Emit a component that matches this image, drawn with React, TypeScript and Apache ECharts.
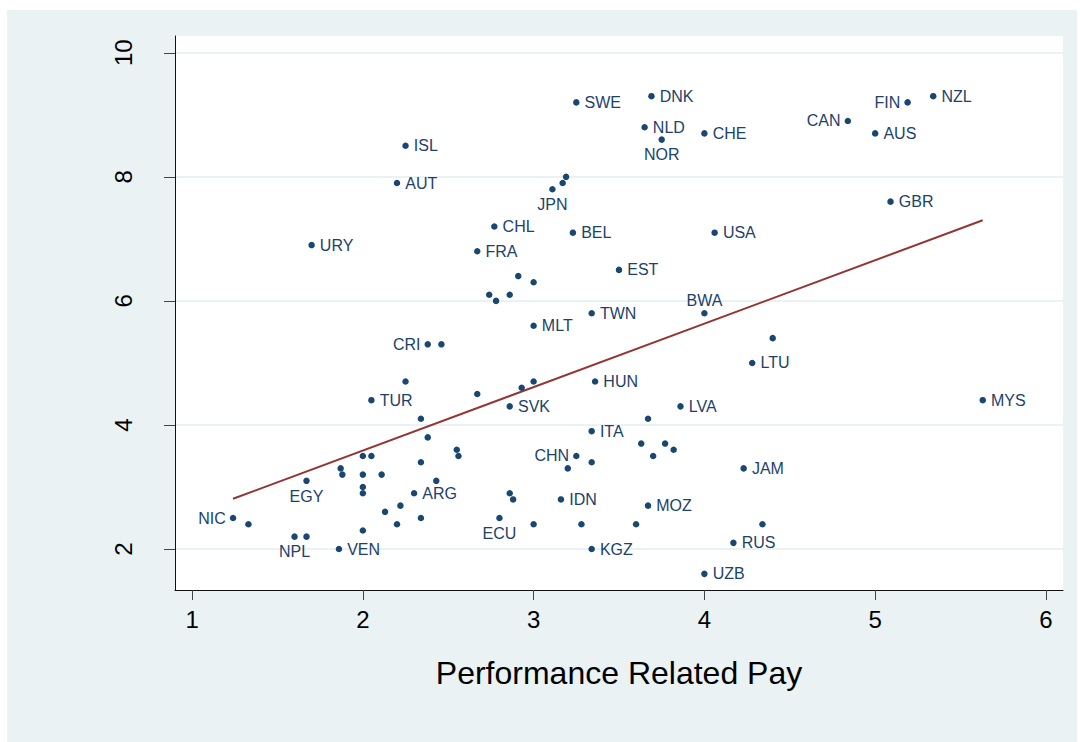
import React, { useEffect, useRef } from "react";
import * as echarts from "echarts";

// Labelled countries: performance related pay (x) vs. y score
const countries = [
  "ISL", "AUT", "URY", "FRA", "SWE", "DNK", "NLD", "NOR", "CHE", "JPN",
  "CHL", "BEL", "USA", "EST", "FIN", "NZL", "CAN", "AUS", "GBR", "CRI",
  "TUR", "TWN", "MLT", "BWA", "LTU", "HUN", "SVK", "LVA", "ITA", "CHN",
  "JAM", "MYS", "EGY", "ARG", "NIC", "NPL", "VEN", "IDN", "MOZ", "ECU",
  "RUS", "KGZ", "UZB",
];
const countryX = [
  2.25, 2.2, 1.7, 2.67, 3.25, 3.69, 3.65, 3.75, 4.0, 3.11,
  2.77, 3.23, 4.06, 3.5, 5.19, 5.34, 4.84, 5.0, 5.09, 2.38,
  2.05, 3.34, 3.0, 4.0, 4.28, 3.36, 2.86, 3.86, 3.34, 3.25,
  4.23, 5.63, 1.67, 2.3, 1.24, 1.6, 1.86, 3.16, 3.67, 2.8,
  4.17, 3.34, 4.0,
];
const countryY = [
  8.5, 7.9, 6.9, 6.8, 9.2, 9.3, 8.8, 8.6, 8.7, 7.8,
  7.2, 7.1, 7.1, 6.5, 9.2, 9.3, 8.9, 8.7, 7.6, 5.3,
  4.4, 5.8, 5.6, 5.8, 5.0, 4.7, 4.3, 4.3, 3.9, 3.5,
  3.3, 4.4, 3.1, 2.9, 2.5, 2.2, 2.0, 2.8, 2.7, 2.5,
  2.1, 2.0, 1.6,
];

// Unlabelled points
const otherX = [
  3.19, 3.17, 2.91, 3.0, 2.74, 2.78, 2.86, 2.46,
  2.25, 2.67, 2.34, 2.38, 2.55, 2.56, 2.0, 2.05, 2.34, 1.87, 1.88, 2.0, 2.11,
  2.0, 2.0, 2.43, 2.22, 2.13, 2.2, 2.34, 1.33, 1.67, 2.0,
  4.4, 3.0, 2.93, 3.67, 3.63, 3.77, 3.7, 3.82, 3.34, 3.2,
  2.86, 2.88, 3.0, 3.28, 3.6, 4.34,
];
const otherY = [
  8.0, 7.9, 6.4, 6.3, 6.1, 6.0, 6.1, 5.3,
  4.7, 4.5, 4.1, 3.8, 3.6, 3.5, 3.5, 3.5, 3.4, 3.3, 3.2, 3.2, 3.2,
  3.0, 2.9, 3.1, 2.7, 2.6, 2.4, 2.5, 2.4, 2.2, 2.3,
  5.4, 4.7, 4.6, 4.1, 3.7, 3.7, 3.5, 3.6, 3.4, 3.3,
  2.9, 2.8, 2.4, 2.4, 2.4, 2.4,
];

// Fitted line end points
const fitX = [1.24, 5.63];
const fitY = [2.81, 7.3];

const xTicks = [1, 2, 3, 4, 5, 6];
const yTicks = [2, 4, 6, 8, 10];

// Label placement (style only)
const labelPlacement: Record<string, any> = {
  NOR: { position: "bottom", distance: 4 },
  JPN: { position: "bottom", distance: 4 },
  EGY: { position: "bottom", distance: 4 },
  ECU: { position: "bottom", distance: 4 },
  NPL: { position: "bottom", distance: 4 },
  BWA: { position: "top", distance: 2 },
  FIN: { position: "left", distance: 4 },
  CAN: { position: "left", distance: 4 },
  CRI: { position: "left", distance: 4 },
  NIC: { position: "left", distance: 4 },
  CHN: { position: "left", distance: 4, offset: [0, -8] },
};

const NAVY = "#1a476f";
const LABEL = "#1c426a";
const FONT = "'Liberation Sans', Arial, sans-serif";

export default function App() {
  const ref = useRef<HTMLDivElement>(null);
  useEffect(() => {
    document.body.style.margin = "0";
    const chart = echarts.init(ref.current!, undefined, { renderer: "svg" });
    const labelled = countries.map((c, i) => {
      const p = labelPlacement[c] || { position: "right", distance: 5 };
      return {
        value: [countryX[i], countryY[i]],
        name: c,
        label: { show: true, formatter: c, ...p },
      };
    });
    const others = otherX.map((x, i) => [x, otherY[i]]);
    const fit = fitX.map((x, i) => [x, fitY[i]]);
    chart.setOption({
      animation: false,
      backgroundColor: "#ffffff",
      graphic: [
        {
          type: "rect",
          z: -10,
          shape: { x: 7, y: 10, width: 1070, height: 732 },
          style: { fill: "#eaf2f3" },
          silent: true,
        },
      ],
      grid: {
        left: 175,
        top: 36,
        width: 888,
        height: 554,
        show: true,
        backgroundColor: "#ffffff",
        borderWidth: 0,
        z: -5,
      },
      xAxis: {
        type: "value",
        min: 0.9,
        max: 6.1,
        name: "Performance Related Pay",
        nameLocation: "middle",
        nameGap: 67,
        nameTextStyle: { fontSize: 32, color: "#000", fontFamily: FONT },
        axisLine: { show: true, onZero: false, lineStyle: { color: "#111", width: 1 } },
        axisTick: { show: true, length: 10, customValues: xTicks, lineStyle: { color: "#444", width: 1 } },
        axisLabel: { customValues: xTicks, fontSize: 24, color: "#000", fontFamily: FONT, margin: 17 },
        splitLine: { show: false },
      },
      yAxis: {
        type: "value",
        min: 1.34,
        max: 10.27,
        axisLine: { show: true, onZero: false, lineStyle: { color: "#111", width: 1 } },
        axisTick: { show: true, length: 11, customValues: yTicks, lineStyle: { color: "#444", width: 1 } },
        axisLabel: { customValues: yTicks, fontSize: 24, color: "#000", fontFamily: FONT, rotate: 90, margin: 40 },
        splitLine: { show: false },
      },
      series: [
        {
          type: "scatter",
          data: [],
          z: 0,
          silent: true,
          markLine: {
            z: 0,
            silent: true,
            symbol: "none",
            label: { show: false },
            lineStyle: { color: "#eaf2f3", width: 2, type: "solid" },
            data: yTicks.map((v) => ({ yAxis: v })),
          },
        },
        {
          type: "line",
          data: fit,
          z: 2,
          symbol: "none",
          lineStyle: { color: "#943535", width: 2 },
        },
        {
          type: "scatter",
          data: others,
          z: 3,
          symbolSize: 6.5,
          itemStyle: { color: NAVY, opacity: 1 },
        },
        {
          type: "scatter",
          data: labelled,
          z: 3,
          symbolSize: 6.5,
          itemStyle: { color: NAVY, opacity: 1 },
          label: { color: LABEL, fontSize: 16, fontFamily: FONT },
          labelLayout: { hideOverlap: false },
        },
      ],
    });
    return () => chart.dispose();
  }, []);
  return <div ref={ref} style={{ width: 1080, height: 742 }} />;
}
